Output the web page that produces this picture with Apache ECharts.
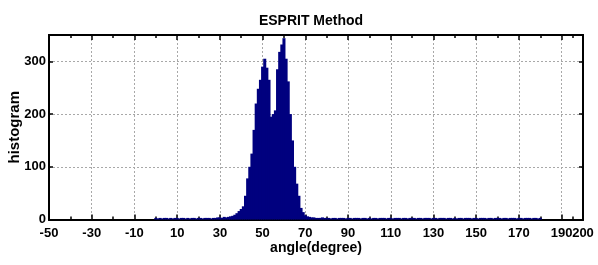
<!DOCTYPE html>
<html>
<head>
<meta charset="utf-8">
<script src="https://cdn.jsdelivr.net/npm/echarts@6/dist/echarts.min.js"></script>
<style>
html,body{margin:0;padding:0;background:#fff;}
#chart{width:598px;height:265px;}
</style>
</head>
<body>
<div id="chart"></div>
<script>
// Histogram bin centres (degrees) and counts
const angles = [
  0,1,2,3,4,5,6,7,8,9,10,11,12,13,14,15,16,17,18,19,
  20,21,22,23,24,25,26,27,28,29,30,31,32,33,34,35,36,37,38,39,
  40,41,42,43,44,45,46,47,48,49,50,51,52,53,54,55,56,57,58,59,
  60,61,62,63,64,65,66,67,68,69,70,71,72,73,74,75,76,77,78,79,
  80,81,82,83,84,85,86,87,88,89,90,91,92,93,94,95,96,97,98,99,
  100,101,102,103,104,105,106,107,108,109,110,111,112,113,114,115,116,117,118,119,
  120,121,122,123,124,125,126,127,128,129,130,131,132,133,134,135,136,137,138,139,
  140,141,142,143,144,145,146,147,148,149,150,151,152,153,154,155,156,157,158,159,
  160,161,162,163,164,165,166,167,168,169,170,171,172,173,174,175,176,177,178,179,
  180
];
const counts = [
  3,2,3,2,3,3,2,3,2,3,3,2,3,3,2,3,2,3,3,2,
  3,3,2,3,3,3,2,3,3,4,4,3,5,4,5,6,7,9,12,16,
  20,25,45,78,100,125,170,220,248,265,290,305,288,265,195,200,207,285,318,332,
  344,305,262,200,150,100,68,45,22,14,8,6,5,4,4,3,3,3,4,3,
  3,3,2,3,3,2,3,3,3,2,3,3,2,3,3,3,2,3,3,2,
  3,2,3,3,2,3,3,3,2,3,3,2,3,3,3,2,3,3,2,3,
  3,3,2,3,3,2,3,3,3,2,3,3,2,3,3,3,2,3,3,2,
  3,2,3,3,2,3,3,3,2,3,3,2,3,3,3,2,3,3,2,3,
  3,3,2,3,3,2,3,3,3,2,3,3,2,3,3,3,2,3,3,2,
  3
];
const binWidth = 1;
const xLabelTicks = [-50,-30,-10,10,30,50,70,90,110,130,150,170,190];
const xEndLabel = [200];
const xMajorTicks = [-30,-10,10,30,50,70,90,110,130,150,170,190];
const xMinorTicks = [-40,-20,0,20,40,60,80,100,120,140,160,180,195];
const yLabelTicks = [0,100,200,300];
const yMajorTicks = [100,200,300];

const titleText = 'ESPRIT Method';
const xName = 'angle(degree)';
const yName = 'histogram';

const FONT = "'Liberation Sans', Arial, Helvetica, sans-serif";
const chart = echarts.init(document.getElementById('chart'), null, {renderer: 'canvas'});

const frameLine = {show: true, onZero: false, lineStyle: {color: '#000', width: 2}};
const gridLine = {show: true, lineStyle: {color: '#a8a8a8', width: 1, type: [2, 2]}};
const tickFont = {fontFamily: FONT, fontSize: 13, fontWeight: 'bold', color: '#000'};

function xAxisDef(pos, ticks, len, opts) {
  return Object.assign({
    type: 'value', min: -50, max: 200, position: pos,
    axisLine: frameLine,
    axisTick: {show: true, inside: true, length: len, customValues: ticks, lineStyle: {color: '#000', width: 1.5}},
    axisLabel: {show: false},
    splitLine: {show: false}
  }, opts || {});
}

const option = {
  backgroundColor: '#fff',
  animation: false,
  title: {
    text: titleText,
    left: 306, textAlign: 'center', top: 9,
    textStyle: {fontFamily: FONT, fontSize: 14, fontWeight: 'bold', color: '#000'}
  },
  grid: {left: 49, right: 15, top: 35, bottom: 45.5, containLabel: false, outerBoundsMode: 'none'},
  xAxis: [
    xAxisDef('bottom', xMajorTicks, 5, {
      name: xName, nameLocation: 'middle', nameGap: 22, nameMoveOverlap: false,
      nameTextStyle: {fontFamily: FONT, fontSize: 14, fontWeight: 'bold', color: '#000'},
      axisLabel: Object.assign({show: true, customValues: xLabelTicks, margin: 7,
        showMinLabel: true, showMaxLabel: true, hideOverlap: false}, tickFont),
      splitLine: gridLine
    }),
    xAxisDef('bottom', xMinorTicks, 3, {
      axisLabel: Object.assign({show: true, customValues: xEndLabel, margin: 7,
        showMinLabel: true, showMaxLabel: true, hideOverlap: false}, tickFont)
    }),
    xAxisDef('top', xMajorTicks, 5),
    xAxisDef('top', xMinorTicks, 3)
  ],
  yAxis: [
    {
      type: 'value', min: 0, max: 350, position: 'left',
      name: yName, nameLocation: 'middle', nameGap: 27, nameMoveOverlap: false,
      nameTextStyle: {fontFamily: FONT, fontSize: 15, fontWeight: 'bold', color: '#000'},
      axisLine: frameLine,
      axisTick: {show: true, inside: true, length: 4, customValues: yMajorTicks, lineStyle: {color: '#000', width: 1.5}},
      axisLabel: Object.assign({show: true, customValues: yLabelTicks, margin: 3, showMinLabel: true}, tickFont),
      splitLine: gridLine
    },
    {
      type: 'value', min: 0, max: 350, position: 'right',
      axisLine: frameLine,
      axisTick: {show: true, inside: true, length: 4, customValues: yMajorTicks, lineStyle: {color: '#000', width: 1.5}},
      axisLabel: {show: false},
      splitLine: {show: false}
    }
  ],
  series: [{
    type: 'custom',
    xAxisIndex: 0, yAxisIndex: 0,
    data: angles.map((a, i) => [a, counts[i]]),
    encode: {x: 0, y: 1},
    renderItem: function (params, api) {
      const a = api.value(0), c = api.value(1);
      const p0 = api.coord([a - binWidth / 2, c]);
      const p1 = api.coord([a + binWidth / 2, 0]);
      return {
        type: 'rect',
        shape: {x: p0[0] - 0.45, y: p0[1], width: p1[0] - p0[0] + 0.9, height: p1[1] - p0[1]},
        style: {fill: '#00007f', lineWidth: 0}
      };
    },
    z: 3
  }]
};
chart.setOption(option);
</script>
</body>
</html>
